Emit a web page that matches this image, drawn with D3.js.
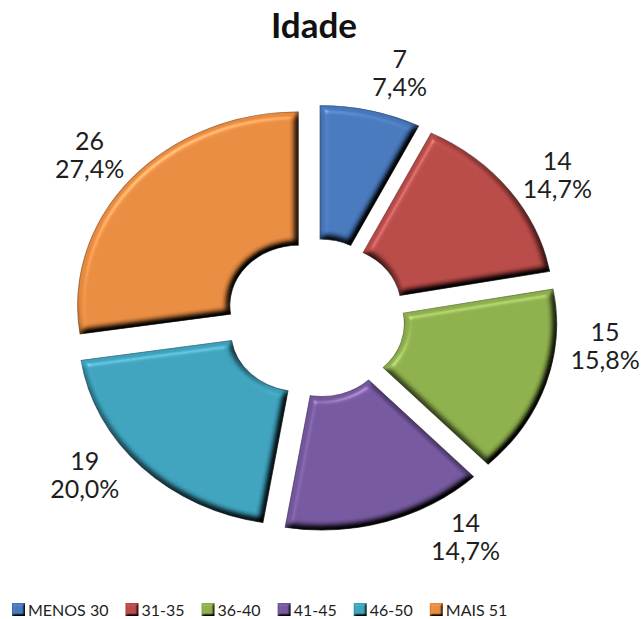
<!DOCTYPE html>
<html>
<head>
<meta charset="utf-8">
<script src="https://cdn.jsdelivr.net/npm/d3@7"></script>
<style>
  body { margin: 0; background: #fff; }
  text { font-family: Lato, "DejaVu Sans", sans-serif; }
</style>
</head>
<body>
<div class="chart"></div>
<script>
// data
var faixas = ["MENOS 30", "31-35", "36-40", "41-45", "46-50", "MAIS 51"];
var pessoas = [7, 14, 15, 14, 19, 26];
var cores = ["#4576ba", "#b54844", "#8aad49", "#72559b", "#3ca0bb", "#e5893f"];
var titulo = "Idade";

var svgWidth = 644;
var svgHeight = 619;

// doughnut geometry (picture is a bit wider than tall)
var cx = 315, cy = 318;
var sx = 1.14;
var outerR = 193.5, innerR = 60;
var explode = 19.4;
var labelR = 256;
// small angle nudges (degrees) so labels sit where Excel put them
var labelNudge = [3.6, 3.1, -11.7, -14, 6.6, -1.3];

var svg = d3.select(".chart")
    .append("svg")
    .attr("width", svgWidth)
    .attr("height", svgHeight);

svg.append("rect").attr("width", svgWidth).attr("height", svgHeight).attr("fill", "#fff");

// bevel filter
var defs = svg.append("defs");
function makeBevel(id, blur, scale, specK) {
    var f = defs.append("filter").attr("id", id)
        .attr("x", "-10%").attr("y", "-10%").attr("width", "120%").attr("height", "120%")
        .attr("color-interpolation-filters", "sRGB");
    f.append("feGaussianBlur").attr("in", "SourceAlpha").attr("stdDeviation", blur).attr("result", "blur");
    var diff = f.append("feDiffuseLighting").attr("in", "blur").attr("surfaceScale", scale)
        .attr("diffuseConstant", 1.25).attr("lighting-color", "#fff").attr("result", "diff");
    diff.append("feDistantLight").attr("azimuth", 235).attr("elevation", 53);
    f.append("feComposite").attr("in", "SourceGraphic").attr("in2", "diff")
        .attr("operator", "arithmetic").attr("k1", 1).attr("result", "shaded");
    var spec = f.append("feSpecularLighting").attr("in", "blur").attr("surfaceScale", scale)
        .attr("specularConstant", specK).attr("specularExponent", 25)
        .attr("lighting-color", "#fff").attr("result", "spec");
    spec.append("feDistantLight").attr("azimuth", 235).attr("elevation", 40);
    f.append("feComposite").attr("in", "spec").attr("in2", "SourceAlpha")
        .attr("operator", "in").attr("result", "specIn");
    f.append("feComposite").attr("in", "shaded").attr("in2", "specIn")
        .attr("operator", "arithmetic").attr("k2", 1).attr("k3", 0.6);
}
makeBevel("bevel", 3.5, 7, 0.4);
makeBevel("bevelSmall", 1.2, 2.5, 0.3);

var color = d3.scaleOrdinal().domain(faixas).range(cores);

var total = d3.sum(pessoas);
var pie = d3.pie().sort(null).value(d => d);
var arcs = pie(pessoas);

var arc = d3.arc().innerRadius(innerR).outerRadius(outerR);

// title
svg.append("text")
    .attr("x", 314)
    .attr("y", 38)
    .attr("text-anchor", "middle")
    .attr("font-size", "35px")
    .attr("font-weight", "bold")
    .attr("fill", "#111")
    .text(titulo);

// slices
var sliceGroup = svg.append("g");
arcs.forEach(function(a, i) {
    var mid = (a.startAngle + a.endAngle) / 2;
    var ox = Math.sin(mid) * explode * sx;
    var oy = -Math.cos(mid) * explode;
    var g = sliceGroup.append("g")
        .attr("transform", `translate(${cx + ox},${cy + oy})`)
        .attr("filter", "url(#bevel)");
    g.append("path")
        .attr("d", arc(a))
        .attr("transform", `scale(${sx},1)`)
        .attr("fill", color(faixas[i]))
        .attr("stroke", d3.color(color(faixas[i])).darker(1.5))
        .attr("stroke-width", 0.9)
        .attr("stroke-opacity", 0.7);
});

// labels: value and percent
var fmtPct = v => (v / total * 100).toFixed(1).replace(".", ",") + "%";
var labelGroup = svg.append("g");
arcs.forEach(function(a, i) {
    var ang = (a.startAngle + a.endAngle) / 2 + labelNudge[i] * Math.PI / 180;
    var lx = cx + Math.sin(ang) * labelR * sx;
    var ly = cy - Math.cos(ang) * labelR;
    var t = labelGroup.append("text")
        .attr("text-anchor", "middle")
        .attr("font-size", "25px")
        .attr("fill", "#1e1e1e");
    t.append("tspan").attr("x", lx).attr("y", ly - 5).text(pessoas[i]);
    t.append("tspan").attr("x", lx).attr("y", ly + 23).text(fmtPct(pessoas[i]));
});

// legend
var legend = svg.append("g");
var lxPos = 12;
faixas.forEach(function(f, i) {
    legend.append("rect")
        .attr("x", lxPos)
        .attr("y", 603)
        .attr("width", 13)
        .attr("height", 13)
        .attr("fill", color(f))
        .attr("filter", "url(#bevelSmall)");
    var t = legend.append("text")
        .attr("x", lxPos + 16)
        .attr("y", 616)
        .attr("font-size", "16px")
        .attr("fill", "#1e1e1e")
        .text(f);
    lxPos += 16 + t.node().getComputedTextLength() + 17;
});
</script>
</body>
</html>
